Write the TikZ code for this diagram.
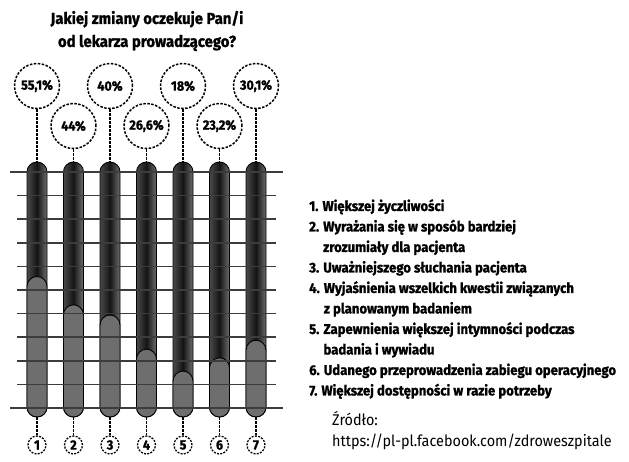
\documentclass[tikz,border=0pt]{standalone}
\usepackage{fontspec}
\setmainfont{Fira Sans}[FakeStretch=0.93, BoldFeatures={FakeBold=1.2}]
\usetikzlibrary{positioning}
\definecolor{bardark}{HTML}{141414}
\definecolor{baredge}{HTML}{4A4A4A}
\definecolor{barfill}{HTML}{6E6E6E}
\definecolor{gridgray}{HTML}{3C3C3C}
\tikzset{
  bar/.style={draw=black, line width=0.9pt, minimum width=20pt, minimum height=255pt,
    rounded corners=10pt, inner sep=0pt, left color=baredge, right color=baredge!80, middle color=bardark},
  level/.style={draw=black, line width=0.9pt, fill=barfill, minimum width=20pt,
    rounded corners=10pt, inner sep=0pt, anchor=south},
  bubble/.style={circle, draw, dash pattern=on 2.5pt off 1.5pt, line width=1.5pt, fill=white,
    minimum size=45pt, inner sep=0pt, font=\bfseries\fontsize{13.5}{15}\selectfont},
  numcircle/.style={circle, draw, dash pattern=on 2pt off 1.3pt, line width=1.3pt, fill=white,
    minimum size=18pt, inner sep=0pt, font=\bfseries\fontsize{13.5}{15}\selectfont},
  stem/.style={dash pattern=on 2.5pt off 1.5pt, line width=1.6pt},
  gridline/.style={gridgray, line width=1.6pt}
}
\begin{document}
\begin{tikzpicture}[x=1pt,y=-1pt]
    \useasboundingbox (0,0) rectangle (629,461);
    \node[font=\bfseries\fontsize{16}{23}\selectfont, align=center] (title) at (147,31)
        {Jakiej zmiany oczekuje Pan/i\\od lekarza prowadzącego?};
    \foreach \i/\p/\lab/\by in {1/55.1/{55,1\%}/86, 2/44/{44\%}/126, 3/40/{40\%}/86,
            4/26.6/{26,6\%}/126, 5/18/{18\%}/86, 6/23.2/{23,2\%}/126, 7/30.1/{30,1\%}/86} {
        \node[bar] (b\i) at ({37+(\i-1)*36.5},289.5) {};
        \node[level, minimum height=\p*2.55pt] (f\i) at (b\i.south) {};
        \node[bubble] (p\i) at ({37+(\i-1)*36.5},\by) {\lab};
        \node[numcircle] (n\i) at ({37+(\i-1)*36.5},445) {\i};
        \draw[stem] (p\i) -- (b\i.north);
        \draw[stem] (b\i.south) -- (n\i);
    }
    \foreach \k in {1,...,9}
        \draw[gridline] (17,{172+\k*23.6}) -- (276,{172+\k*23.6});
    \draw[gridline] (10,172) -- (283,172);
    \draw[gridline] (10,408) -- (283,408);
    \node[anchor=north west, align=left, inner sep=0pt,
          font=\bfseries\fontsize{14.1}{20.5}\selectfont] (legend) at (309,199)
        {1. Większej życzliwości\\
         2. Wyrażania się w sposób bardziej\\
         \phantom{2. }zrozumiały dla pacjenta\\
         3. Uważniejszego słuchania pacjenta\\
         4. Wyjaśnienia wszelkich kwestii związanych\\
         \phantom{4. }z planowanym badaniem\\
         5. Zapewnienia większej intymności podczas\\
         \phantom{5. }badania i wywiadu\\
         6. Udanego przeprowadzenia zabiegu operacyjnego\\
         7. Większej dostępności w razie potrzeby};
    \node[anchor=north west, align=left, inner sep=0pt,
          font=\fontsize{15.5}{21}\selectfont] (source) at (332,411)
        {Źródło:\\https://pl-pl.facebook.com/zdroweszpitale};
\end{tikzpicture}
\end{document}
